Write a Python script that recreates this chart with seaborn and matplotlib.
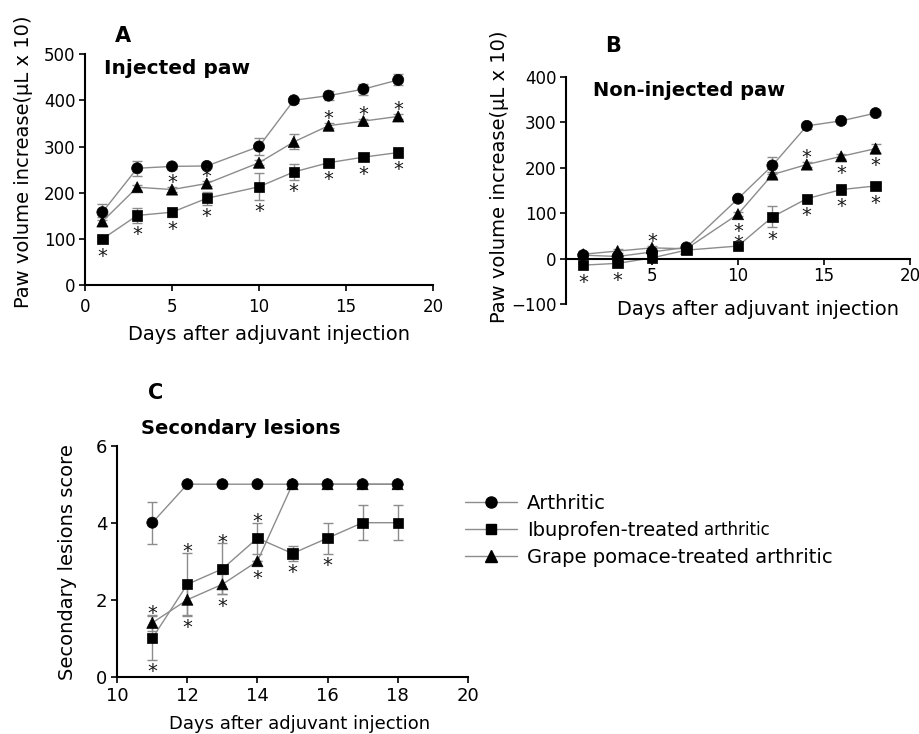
import numpy as np
import pandas as pd
import matplotlib
matplotlib.use("Agg")
import matplotlib.pyplot as plt
from matplotlib.lines import Line2D
import seaborn as sns

# ---------------- data ----------------
groups = ["Arthritic", "Ibuprofen-treated arthritic", "Grape pomace-treated arthritic"]

days_ab = [1, 3, 5, 7, 10, 12, 14, 16, 18]

a_arth = [158, 253, 257, 258, 300, 400, 410, 424, 444]
a_arth_err = [17, 16, 5, 5, 18, 5, 10, 12, 12]
a_ibu = [100, 151, 158, 188, 213, 245, 265, 277, 287]
a_ibu_err = [5, 16, 10, 14, 29, 18, 5, 5, 5]
a_grape = [138, 212, 207, 220, 265, 310, 345, 355, 365]
a_grape_err = [10, 5, 5, 6, 5, 16, 5, 5, 5]
a_arth_sig = ["", "", "", "", "", "", "", "", ""]
a_ibu_sig = ["below"] * 9
a_grape_sig = ["", "", "above", "above", "", "", "above", "above", "above"]

b_arth = [8, 5, 15, 25, 132, 205, 292, 303, 320]
b_arth_err = [4, 4, 4, 4, 5, 19, 6, 4, 4]
b_ibu = [-14, -10, 2, 19, 28, 92, 132, 152, 160]
b_ibu_err = [4, 4, 4, 4, 5, 23, 5, 5, 6]
b_grape = [10, 17, 24, 22, 98, 185, 207, 225, 242]
b_grape_err = [4, 4, 4, 4, 4, 5, 5, 5, 10]
b_arth_sig = ["", "", "", "", "", "", "", "", ""]
b_ibu_sig = ["below", "below", "", "", "above-near", "below", "below", "below", "below"]
b_grape_sig = ["", "", "above", "", "below", "", "above", "below", "below"]

days_c = [11, 12, 13, 14, 15, 16, 17, 18]
c_arth = [4, 5, 5, 5, 5, 5, 5, 5]
c_arth_err = [0.55, 0, 0, 0, 0, 0, 0, 0]
c_ibu = [1.0, 2.4, 2.8, 3.6, 3.2, 3.6, 4.0, 4.0]
c_ibu_err = [0.57, 0.81, 0.66, 0.4, 0.2, 0.4, 0.45, 0.45]
c_grape = [1.4, 2.0, 2.4, 3.0, 5, 5, 5, 5]
c_grape_err = [0.2, 0.42, 0.26, 0, 0, 0, 0, 0]
c_arth_sig = ["", "", "", "", "", "", "", ""]
c_ibu_sig = ["below", "above", "above", "above", "below", "below", "", ""]
c_grape_sig = ["above", "below", "below", "below", "", "", "", ""]

# ---------------- style ----------------
sns.set_style("ticks")
plt.rcParams["font.family"] = ["DejaVu Sans"]
plt.rcParams["axes.linewidth"] = 1.5
plt.rcParams["text.color"] = "black"
plt.rcParams["axes.labelcolor"] = "black"
plt.rcParams["xtick.color"] = "black"
plt.rcParams["ytick.color"] = "black"
plt.rcParams["axes.edgecolor"] = "black"

LINE_C = "#8c8c8c"
ERR_C = "#8c8c8c"
markers = {groups[0]: "o", groups[1]: "s", groups[2]: "^"}
msizes = {groups[0]: 64, groups[1]: 54, groups[2]: 64}

W, H = 920, 734
fig = plt.figure(figsize=(W / 100, H / 100), dpi=100)


def px_axes(left, top, right, bottom):
    return fig.add_axes([left / W, 1 - bottom / H, (right - left) / W, (bottom - top) / H])


def draw_panel(ax, days, series, errs, sigs, star_fs=14):
    rows = []
    for g, vals in zip(groups, series):
        for d, v in zip(days, vals):
            rows.append({"day": d, "value": v, "group": g})
    df = pd.DataFrame(rows)
    order = [groups[2], groups[1], groups[0]]
    for g in order:
        i = groups.index(g)
        ax.errorbar(days, series[i], yerr=errs[i], fmt="none", ecolor=ERR_C,
                    elinewidth=1.0, capsize=3.5, capthick=1.0, zorder=1)
    sns.lineplot(data=df, x="day", y="value", hue="group", hue_order=order,
                 palette={g: LINE_C for g in groups}, estimator=None, sort=False,
                 linewidth=1.0, legend=False, ax=ax, zorder=2)
    sns.scatterplot(data=df, x="day", y="value", style="group", style_order=order,
                    markers=markers, size="group", sizes=msizes, color="black",
                    edgecolor="black", linewidth=0.5, legend=False, ax=ax, zorder=3)
    # significance asterisks
    fs_px = star_fs * 100 / 72
    for vals, er, sg in zip(series, errs, sigs):
        for d, v, e, s in zip(days, vals, er, sg):
            if not s:
                continue
            p0 = ax.transData.transform((d, v))
            p1 = ax.transData.transform((d, v + e))
            epx = abs(p1[1] - p0[1])
            if s.endswith("near"):
                off = 7.5
            else:
                off = max(epx, 5.5) + 6.5
            sign = 1 if s.startswith("above") else -1
            ax.annotate("*", xy=(d, v), xytext=(0, sign * off - 0.55 * fs_px),
                        textcoords="offset pixels", ha="center", va="baseline",
                        fontsize=star_fs, color="#1a1a1a", zorder=4)
    ax.set_xlabel("")
    ax.set_ylabel("")


def style_axes(ax, tick_fs=12, xpad=2):
    sns.despine(ax=ax)
    ax.tick_params(axis="both", direction="out", length=4, width=1.2,
                   labelsize=tick_fs, colors="black")
    ax.tick_params(axis="x", pad=xpad)
    ax.tick_params(axis="y", pad=3)


# ---------------- Panel A ----------------
axA = px_axes(85, 54, 433, 285.3)
axA.set_xlim(0, 20)
axA.set_ylim(0, 500)
draw_panel(axA, days_ab, [a_arth, a_ibu, a_grape], [a_arth_err, a_ibu_err, a_grape_err],
           [a_arth_sig, a_ibu_sig, a_grape_sig])
axA.set_xlim(0, 20)
axA.set_ylim(0, 500)
axA.set_xticks([0, 5, 10, 15, 20])
axA.set_yticks([0, 100, 200, 300, 400, 500])
style_axes(axA, xpad=5)
axA.set_xlabel("Days after adjuvant injection", fontsize=14)
axA.xaxis.set_label_coords(0.53, -0.212)
axA.xaxis.label.set_va("center")
axA.set_ylabel("Paw volume increase(µL x 10)", fontsize=14)
axA.yaxis.set_label_coords(-0.178, 0.535)
axA.yaxis.label.set_va("center")

# ---------------- Panel B ----------------
axB = px_axes(566, 76.7, 910, 304.3)
axB.set_xlim(0, 20)
axB.set_ylim(-100, 400)
draw_panel(axB, days_ab, [b_arth, b_ibu, b_grape], [b_arth_err, b_ibu_err, b_grape_err],
           [b_arth_sig, b_ibu_sig, b_grape_sig])
axB.set_xlim(0, 20)
axB.set_ylim(-100, 400)
axB.set_xticks([5, 10, 15, 20])
axB.set_yticks([-100, 0, 100, 200, 300, 400])
style_axes(axB, xpad=2)
axB.spines["bottom"].set_position(("data", 0))
axB.set_xlabel("Days after adjuvant injection", fontsize=14)
axB.xaxis.set_label_coords(0.559, -0.025)
axB.xaxis.label.set_va("center")
axB.set_ylabel("Paw volume increase(µL x 10)", fontsize=14)
axB.yaxis.set_label_coords(-0.193, 0.56)
axB.yaxis.label.set_va("center")

# ---------------- Panel C ----------------
axC = px_axes(117.3, 445.7, 467.7, 676.7)
axC.set_xlim(10, 20)
axC.set_ylim(0, 6)
draw_panel(axC, days_c, [c_arth, c_ibu, c_grape], [c_arth_err, c_ibu_err, c_grape_err],
           [c_arth_sig, c_ibu_sig, c_grape_sig])
axC.set_xlim(10, 20)
axC.set_ylim(0, 6)
axC.set_xticks([10, 12, 14, 16, 18, 20])
axC.set_yticks([0, 2, 4, 6])
style_axes(axC, tick_fs=13, xpad=3.5)
axC.set_xlabel("Days after adjuvant injection", fontsize=13)
axC.xaxis.set_label_coords(0.52, -0.205)
axC.xaxis.label.set_va("center")
axC.set_ylabel("Secondary lesions score", fontsize=14)
axC.yaxis.set_label_coords(-0.1435, 0.495)
axC.yaxis.label.set_va("center")

# ---------------- panel letters & titles ----------------
def ftext(x, y, s, **kw):
    fig.text(x / W, 1 - y / H, s, **kw)

ftext(123, 36, "A", fontsize=15, fontweight="bold", ha="center", va="center")
ftext(613, 46, "B", fontsize=15, fontweight="bold", ha="center", va="center")
ftext(156, 393, "C", fontsize=15, fontweight="bold", ha="center", va="center")
ftext(104, 69, "Injected paw", fontsize=14.5, fontweight="bold", ha="left", va="center")
ftext(593, 90, "Non-injected paw", fontsize=14, fontweight="bold", ha="left", va="center")
ftext(141, 429, "Secondary lesions", fontsize=14, fontweight="bold", ha="left", va="center")

# ---------------- legend ----------------
handles = [Line2D([0], [0], color=LINE_C, lw=1.0, marker=markers[g],
                  markersize=8 if g != groups[1] else 7.4,
                  markerfacecolor="black", markeredgecolor="black") for g in groups]
leg_labels = ["Arthritic", "Ibuprofen-treated", "Grape pomace-treated arthritic"]
leg = fig.legend(handles, leg_labels, loc="upper left",
                 bbox_to_anchor=(465 / W, 1 - 494 / H), frameon=False,
                 borderpad=0, borderaxespad=0, handlelength=2.67,
                 handletextpad=0.5, labelspacing=0.41, fontsize=14)

fig.canvas.draw()
t = leg.get_texts()[1]
bb = t.get_window_extent()
base_y = bb.y0 + 0.236 * 14 * 100 / 72
fig.text((bb.x1 + 5) / W, base_y / H, "arthritic", fontsize=12, va="baseline", ha="left")

fig.savefig("out.png", dpi=100)
